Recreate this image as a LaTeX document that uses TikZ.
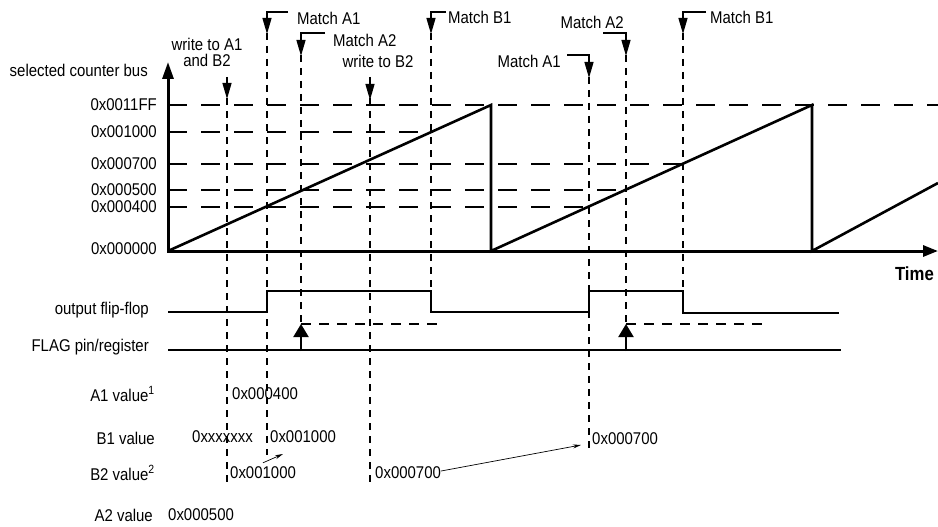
\documentclass[tikz,border=0pt]{standalone}
\usepackage{fontspec}
\setmainfont{Liberation Sans}[FakeStretch=0.88]
\usetikzlibrary{arrows.meta}
\begin{document}
\begin{tikzpicture}[x=1pt, y=-1pt, every node/.style={font=\fontsize{17}{16}\selectfont, inner sep=0pt},
  axis/.style={line width=3pt, {Triangle[length=17pt,width=11pt]}-{Triangle[length=15pt,width=11pt]}},
  wave/.style={line width=2.6pt},
  level/.style={line width=1.8pt, dash pattern=on 19pt off 14pt},
  event/.style={line width=1.8pt, dash pattern=on 7pt off 6pt},
  hold/.style={line width=1.8pt, dash pattern=on 10pt off 8pt},
  marker/.style={line width=1.3pt, -{Triangle[length=16pt,width=9pt]}},
  flagarrow/.style={line width=2pt, -{Triangle[length=13pt,width=15pt]}},
  pointer/.style={line width=0.7pt, -{Stealth[length=8pt,width=4pt]}}]
  \useasboundingbox (0,0) rectangle (938,527);
  % counter levels, label on the left, dashed line up to the point where it is used
  \node[anchor=east] (bus) at (148,70) {selected counter bus};
  \foreach \y/\v/\xe [count=\i] in {105/0x0011FF/938, 132/0x001000/431, 164/0x000700/683, 190/0x000500/626, 207/0x000400/589} {
    \node[anchor=east] (lv\i) at (157,\y) {\v};
    \draw[level] (168,\y) -- (\xe,\y);
  }
  \node[anchor=east] (lv0) at (157,249) {0x000000};
  % saw tooth of the counter
  \draw[wave] (168,251) -- (491,105) -- (491,251) -- (812,105) -- (812,251) -- (938,183);
  \draw[axis] (168,62) -- (168,251) -- (938,251);
  \node[anchor=east, font=\bfseries\fontsize{19}{19}\selectfont] (time) at (934,274) {Time};
  % events: x, top, bottom of the dashed line
  \foreach \x/\ya/\yb in {227/98/483, 267/33/455, 301/55/324, 370/98/483, 431/33/291, 589/77/451, 626/55/324, 683/33/291}
    \draw[event] (\x,\ya) -- (\x,\yb);
  \draw[marker] (227,77) -- (227,99);
  \draw[marker] (370,77) -- (370,100);
  \draw[marker] (288,12) -- (267,12) -- (267,34);
  \draw[marker] (325,33) -- (301,33) -- (301,56);
  \draw[marker] (446,12) -- (431,12) -- (431,34);
  \draw[marker] (567,55) -- (589,55) -- (589,78);
  \draw[marker] (603,33) -- (626,33) -- (626,56);
  \draw[marker] (706,12) -- (683,12) -- (683,34);
  \node[align=center] (wab) at (207,52) {write to A1\\and B2};
  \node[anchor=west] (ma1) at (297,18) {Match A1};
  \node[anchor=west] (ma2) at (333,40) {Match A2};
  \node (wb2) at (378,61) {write to B2};
  \node[anchor=west] (mb1) at (448,17) {Match B1};
  \node[anchor=east] (ma1b) at (561,61) {Match A1};
  \node[anchor=east] (ma2b) at (624,22) {Match A2};
  \node[anchor=west] (mb1b) at (710,17) {Match B1};
  % output flip-flop and flag
  \node[anchor=east] (off) at (149,310) {output flip-flop};
  \node[anchor=east] (flag) at (149,347) {FLAG pin/register};
  \draw[wave] (168,312) -- (267,312) -- (267,291) -- (431,291) -- (431,312) -- (589,312) -- (589,291) -- (683,291) -- (683,313) -- (839,313);
  \draw[wave] (168,350) -- (841,350);
  \draw[hold] (301,324) -- (442,324);
  \draw[hold] (626,324) -- (767,324);
  \draw[flagarrow] (301,351) -- (301,324);
  \draw[flagarrow] (626,351) -- (626,324);
  % register values
  \node[anchor=east] (a1) at (155,394) {A1 value\textsuperscript{1}};
  \node[anchor=east] (b1) at (155,438) {B1 value};
  \node[anchor=east] (b2) at (155,473) {B2 value\textsuperscript{2}};
  \node[anchor=east] (a2) at (153,515) {A2 value};
  \node[anchor=west] (a1v1) at (232,394) {0x000400};
  \node[anchor=west] (b1v1) at (192,437) {0xxxxxxx};
  \node[anchor=west] (b1v2) at (270,437) {0x001000};
  \node[anchor=west] (b1v3) at (592,439) {0x000700};
  \node[anchor=west] (b2v1) at (230,473) {0x001000};
  \node[anchor=west] (b2v2) at (375,473) {0x000700};
  \node[anchor=west] (a2v1) at (168,515) {0x000500};
  \draw[pointer] ([xshift=33pt,yshift=4pt]b2v1.north west) -- ([xshift=13pt,yshift=-17pt]b1v2.west);
  \draw[pointer] ([yshift=2pt]b2v2.east) -- ([xshift=-11pt,yshift=-6pt]b1v3.west);
\end{tikzpicture}
\end{document}
